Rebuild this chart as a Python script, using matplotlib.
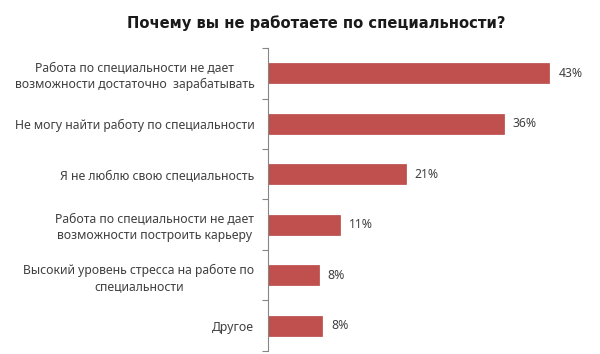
import matplotlib
matplotlib.use('Agg')
import matplotlib.pyplot as plt
import numpy as np

plt.rcParams['font.family'] = ['Noto Sans', 'DejaVu Sans']

# data
categories = [
    'Работа по специальности не дает\nвозможности достаточно  зарабатывать',
    'Не могу найти работу по специальности',
    'Я не люблю свою специальность',
    'Работа по специальности не дает\nвозможности построить карьеру',
    'Высокий уровень стресса на работе по\nспециальности',
    'Другое',
]
values = [43, 36, 21, 11, 7.7, 8.2]
value_labels = ['43%', '36%', '21%', '11%', '8%', '8%']

bar_color = '#C0504D'
text_color = '#404040'

fig = plt.figure(figsize=(6, 3.54), dpi=100)
ax = fig.add_axes([0.447, 0.009, 0.545, 0.855])

y = np.arange(len(categories))
ax.barh(y, values, height=0.4, color=bar_color, edgecolor='#B84A47', linewidth=0.5)
ax.set_ylim(len(categories) - 0.5, -0.5)
ax.set_xlim(0, 50)

for yi, v, lab in zip(y, values, value_labels):
    ax.text(v + 1.4, yi, lab, va='center', ha='left', fontsize=8.8, color=text_color)

# category labels in the middle, tick marks on the boundaries
ax.set_yticks(np.arange(-0.5, len(categories)), minor=False)
ax.set_yticklabels([])
ax.set_yticks(y, minor=True)
ax.set_yticklabels(categories, minor=True, fontsize=8.8, color=text_color,
                   ha='right', multialignment='center', linespacing=1.3)
ax.tick_params(axis='y', which='major', length=4, direction='out', color='#868686')
ax.tick_params(axis='y', which='minor', length=0, pad=10)

ax.set_xticks([])
for side in ['top', 'right', 'bottom']:
    ax.spines[side].set_visible(False)
ax.spines['left'].set_color('#868686')
ax.spines['left'].set_linewidth(0.8)

fig.suptitle('Почему вы не работаете по специальности?', x=0.527, y=0.958,
             fontsize=10.6, fontweight='bold', color='#1a1a1a',
             family=['DejaVu Sans'])

fig.savefig('out.png', dpi=100)
